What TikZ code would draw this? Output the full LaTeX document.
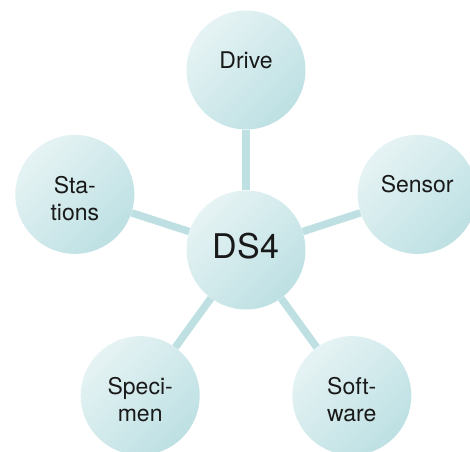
\documentclass[tikz,border=0pt]{standalone}
\usepackage{fontspec}
\setmainfont{TeX Gyre Heros}
\definecolor{lite}{HTML}{E6F3F4}
\definecolor{dark}{HTML}{BDE0E3}
\definecolor{linkc}{HTML}{BEE0E3}
\begin{document}
\begin{tikzpicture}[x=1pt,y=1pt,
  bubble/.style={circle, minimum size=119pt, inner sep=0pt,
    top color=lite, bottom color=dark, shading angle=45, draw=none},
  tx/.style={align=center, inner sep=0pt, text=black!90,
    font=\fontsize{23}{27}\selectfont},
  hubtx/.style={tx, font=\fontsize{34}{40}\selectfont},
  link/.style={draw=linkc, line width=7.5pt}]
\useasboundingbox (0,0) rectangle (470,451);
\begin{scope}[shift={(246,201)}]
\node[bubble, label={[hubtx, yshift=4pt, name=dst]center:DS4}] (ds) at (0,0) {};
\node[bubble, label={[tx, yshift=10pt, name=drivet]center:Drive}] (drive) at (90:180) {};
\node[bubble, label={[tx, yshift=10pt, name=sensort]center:Sensor}] (sensor) at (18:180) {};
\node[bubble, label={[tx, yshift=-4pt, name=stationst]center:Sta-\\tions}] (stations) at (162:180) {};
\node[bubble, label={[tx, yshift=-4pt, name=specimant]center:Speci-\\men}] (specimen) at (234:180) {};
\node[bubble, label={[tx, yshift=-4pt, name=softwaret]center:Soft-\\ware}] (software) at (306:180) {};
\end{scope}
\foreach \n in {drive,sensor,stations,specimen,software}{
  \path[link] (ds) -- (\n);
}
\end{tikzpicture}
\end{document}
